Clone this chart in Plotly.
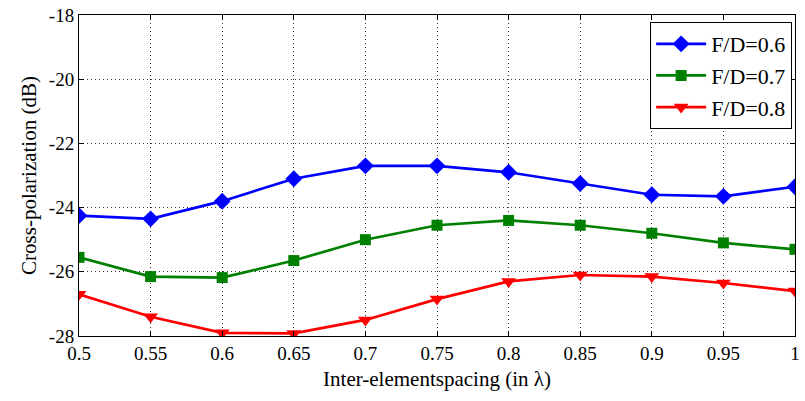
import plotly.graph_objects as go

# Inter-element spacing (in wavelengths)
spacing = [0.5, 0.55, 0.6, 0.65, 0.7, 0.75, 0.8, 0.85, 0.9, 0.95, 1.0]
spacing_labels = ["0.5", "0.55", "0.6", "0.65", "0.7", "0.75", "0.8", "0.85", "0.9", "0.95", "1"]

# Cross-polarization level (dB) for each focal ratio
xpol_fd06 = [-24.25, -24.35, -23.8, -23.1, -22.7, -22.7, -22.9, -23.25, -23.6, -23.65, -23.35]
xpol_fd07 = [-25.55, -26.15, -26.18, -25.65, -25.0, -24.55, -24.4, -24.55, -24.8, -25.1, -25.3]
xpol_fd08 = [-26.7, -27.4, -27.9, -27.92, -27.5, -26.85, -26.3, -26.1, -26.15, -26.35, -26.6]

y_ticks = [-28, -26, -24, -22, -20, -18]
y_tick_labels = ["-28", "-26", "-24", "-22", "-20", "-18"]

series = [
    ("F/D=0.6", xpol_fd06, "#0000ff", "diamond", 13),
    ("F/D=0.7", xpol_fd07, "#008000", "square", 11),
    ("F/D=0.8", xpol_fd08, "#ff0000", "triangle-down", 13),
]

serif = "Liberation Serif"

fig = go.Figure()
for name, vals, color, symbol, size in series:
    fig.add_trace(go.Scatter(
        x=spacing, y=vals, name=name, mode="lines+markers",
        line=dict(color=color, width=2.7),
        marker=dict(symbol=symbol, size=size, color=color),
    ))

axis_common = dict(
    showline=True, linecolor="black", linewidth=1, mirror="ticks",
    ticks="inside", ticklen=5, tickcolor="black",
    showgrid=True, gridcolor="#333333", griddash="1px,3px", gridwidth=1,
    zeroline=False,
    tickfont=dict(family=serif, size=19, color="black"),
)

fig.update_xaxes(
    range=[0.5, 1.0], tickvals=spacing, ticktext=spacing_labels,
    title=dict(text="Inter-elementspacing (in λ)", font=dict(family=serif, size=21, color="black"), standoff=8),
    **axis_common,
)
fig.update_yaxes(
    range=[-28, -18], tickvals=y_ticks, ticktext=y_tick_labels,
    title=dict(text="Cross-polarization (dB)", font=dict(family=serif, size=21, color="black"), standoff=6),
    **axis_common,
)

fig.update_layout(
    width=805, height=401,
    margin=dict(l=79, r=5, t=15, b=65),
    paper_bgcolor="white", plot_bgcolor="white",
    font=dict(family=serif, size=19, color="black"),
    showlegend=True,
    legend=dict(
        x=0.996, y=0.978, xanchor="right", yanchor="top",
        bgcolor="white", bordercolor="black", borderwidth=1,
        font=dict(family=serif, size=22, color="black"),
        itemwidth=50,
    ),
)

fig.write_html("out.html")
